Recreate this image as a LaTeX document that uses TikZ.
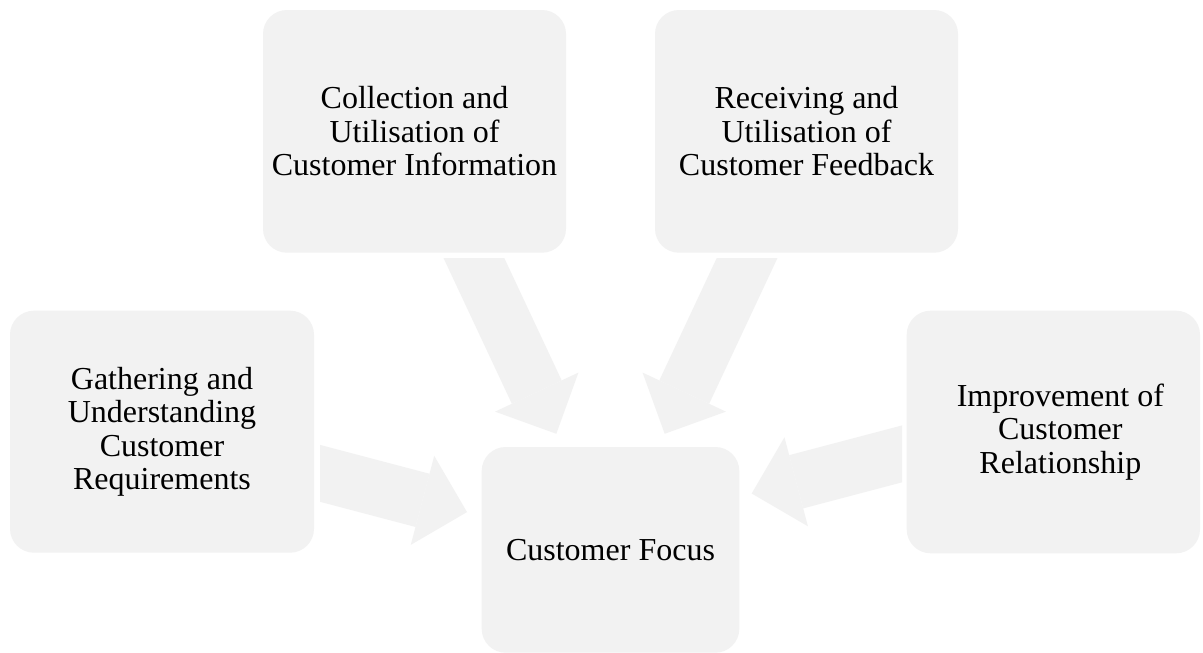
\documentclass[tikz,border=0pt]{standalone}
\usepackage{fontspec}
\setmainfont{Liberation Serif}
\usetikzlibrary{arrows.meta}
\definecolor{boxgray}{HTML}{F2F2F2}
\newcommand{\boxfont}{\fontsize{32}{33.3}\selectfont}
\tikzset{
	box/.style={fill=boxgray, rounded corners=24pt, inner sep=0pt, align=center, font=\boxfont},
	boxtext/.style={inner sep=0pt, align=center, font=\boxfont},
	bigarrow/.style={draw=boxgray, line width=55pt, -{Triangle[length=46pt,width=92pt,line width=0pt]}}
}
\begin{document}
\begin{tikzpicture}[x=1pt,y=-1pt]
	\fill[white] (0,0) rectangle (1203,653);
	\useasboundingbox (0,0) rectangle (1203,653);
	% boxes
	\node[box, minimum width=303pt, minimum height=242.7pt] (tl) at (414.5,131.35) {Collection and\\Utilisation of\\Customer Information};
	\node[box, minimum width=303pt, minimum height=242.7pt] (tr) at (806.5,131.35) {Receiving and\\Utilisation of\\Customer Feedback};
	\node[box, minimum width=304pt, minimum height=242pt] (lt) at (162,431.7) {Gathering and\\Understanding\\Customer\\Requirements};
	\node[box, minimum width=293.3pt, minimum height=242.6pt] (rt) at (1053.35,432) {};
	\node[boxtext] (rttext) at ([xshift=7pt]rt.center) {Improvement of\\Customer\\Relationship};
	\node[box, minimum width=257.6pt, minimum height=205.7pt] (cf) at (610.5,549.85) {Customer Focus};
	% arrows
	\coordinate (a4tip) at (751.7,493.5);
	\begin{scope}
		\clip (0,258) rectangle (1203,653);
		\draw[bigarrow, shorten >=14.4pt] (tl.center) -- (cf);
		\draw[bigarrow, shorten >=14.4pt] (tr.center) -- (cf);
	\end{scope}
	\begin{scope}
		\clip (320,0) rectangle (1203,653);
		\draw[bigarrow, shorten >=15pt] (lt.center) -- (cf);
	\end{scope}
	\begin{scope}
		\clip (0,0) rectangle (902,653);
		\draw[bigarrow] ([yshift=18pt]rt.center) -- (a4tip);
	\end{scope}
\end{tikzpicture}
\end{document}
